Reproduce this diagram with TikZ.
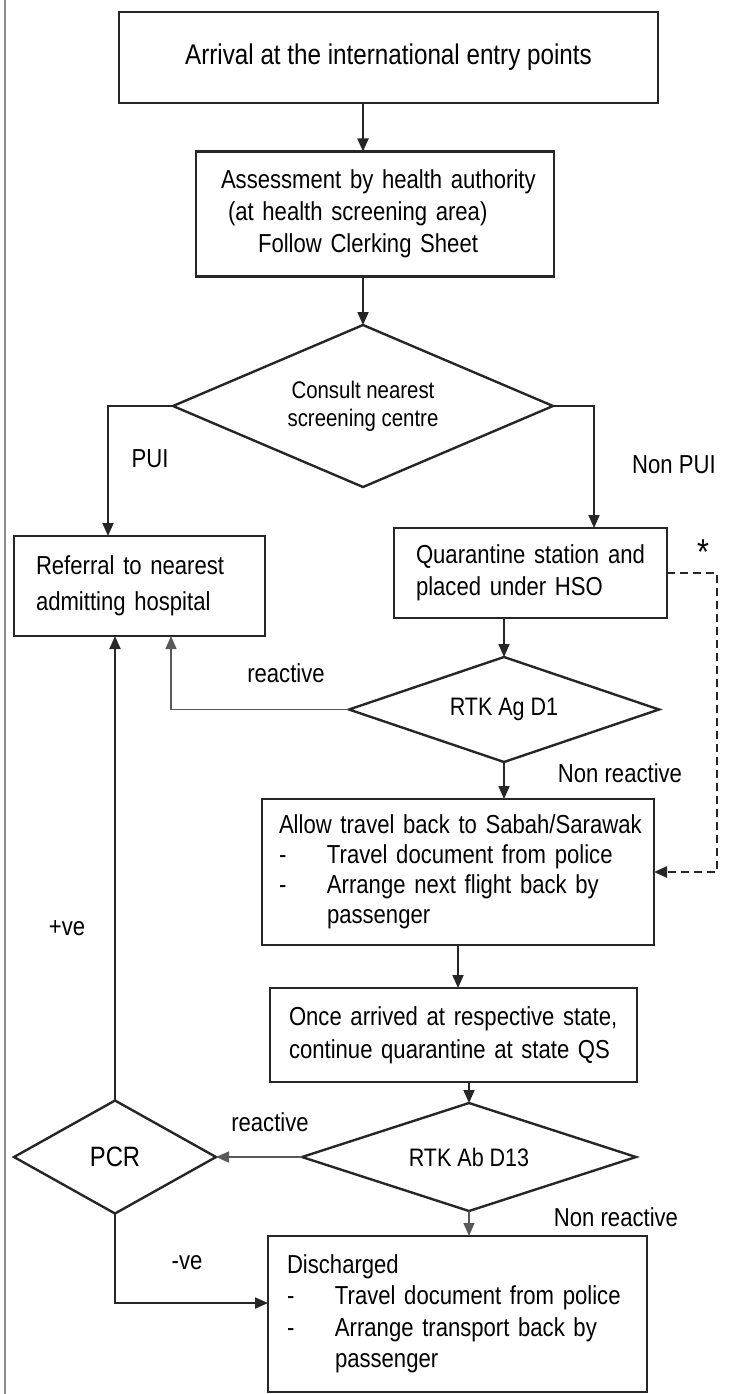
\documentclass[tikz,border=0pt]{standalone}
\usepackage{fontspec}
\setmainfont{Liberation Sans}[FakeStretch=0.85]
\usetikzlibrary{shapes.geometric,arrows.meta}

\begin{document}
\begin{tikzpicture}[x=1pt, y=-1pt, line join=miter,
    stepbox/.style={draw=black!85, line width=2.4pt, outer sep=0pt, inner ysep=0pt, align=left},
    decision/.style={diamond, draw=black!85, line width=2.4pt, outer sep=0pt, inner sep=0pt, align=center},
    flow/.style={draw=black!85, line width=1.8pt, -{Triangle[length=13pt,width=11pt]}},
    thinflow/.style={draw=black!65, line width=1.3pt, -{Triangle[length=13pt,width=11pt]}},
    lbl/.style={inner sep=0pt, font=\fontsize{26}{28}\selectfont}]
    \useasboundingbox (0,0) rectangle (731,1394);

    % Page edge on the left
    \draw[black!45, line width=1.5pt] (5,0) -- (5,1394);

    % Process boxes
    \node[stepbox, align=center, minimum width=539pt, minimum height=91pt,
          font=\fontsize{28.5}{32}\selectfont] (arrival) at (388.5,57.5)
          {Arrival at the international entry points};
    \node[stepbox, text width=318pt, inner xsep=20pt, minimum height=125pt,
          font=\fontsize{26}{32}\selectfont] (assess) at (375,214)
          {\hspace*{5pt}\mbox{Assessment by health authority}\\
           \hspace*{12pt}(at health screening area)\\
           \hspace*{42pt}Follow Clerking Sheet};
    \node[stepbox, text width=207pt, inner xsep=22pt, minimum height=100pt,
          font=\fontsize{26}{36}\selectfont] (referral) at (139.5,586)
          {Referral to nearest\\admitting hospital};
    \node[stepbox, text width=229pt, inner xsep=22pt, minimum height=90pt,
          font=\fontsize{26}{32}\selectfont] (quar) at (530.5,573)
          {Quarantine\hfill station\hfill and\\placed under HSO};
    \node[stepbox, text width=358pt, inner xsep=17pt, minimum height=146pt,
          font=\fontsize{26}{30}\selectfont] (allow) at (458,872)
          {\mbox{Allow travel back to Sabah/Sarawak}\\
           \makebox[48pt][l]{-}Travel document from police\\
           \makebox[48pt][l]{-}Arrange next flight back by\\
           \hspace*{48pt}passenger};
    \node[stepbox, text width=329pt, inner xsep=19pt, minimum height=94pt,
          font=\fontsize{26}{33}\selectfont] (once) at (453.5,1035)
          {\mbox{Once arrived at respective state,}\\\mbox{continue quarantine at state QS}};
    \node[stepbox, text width=341pt, inner xsep=19pt, minimum height=156pt,
          font=\fontsize{26}{31.5}\selectfont] (discharged) at (457.5,1314)
          {Discharged\\
           \makebox[48pt][l]{-}\mbox{Travel document from police}\\
           \makebox[48pt][l]{-}Arrange transport back by\\
           \hspace*{48pt}passenger};

    % Decisions
    \node[decision, aspect=2.4, minimum width=380pt, minimum height=162pt,
          font=\fontsize{24}{28}\selectfont] (consult) at (363,406)
          {Consult nearest\\screening centre};
    \node[decision, aspect=3, minimum width=310pt, minimum height=105pt,
          font=\fontsize{25.3}{28}\selectfont] (rtkag) at (504,709.5) {RTK Ag D1};
    \node[decision, aspect=3, minimum width=334pt, minimum height=108pt,
          font=\fontsize{25.3}{28}\selectfont] (rtkab) at (469,1157) {RTK Ab D13};
    \node[decision, aspect=1.8, minimum width=202pt, minimum height=113pt,
          font=\fontsize{28}{30}\selectfont] (pcr) at (115,1157) {PCR};

    % Connectors
    \draw[flow] (arrival.south -| consult.north) -- (assess.north -| consult.north);
    \draw[flow] (assess.south -| consult.north) -- (consult.north);
    \draw[flow] (consult.west) -| ([xshift=-31.5pt]referral.north);
    \draw[flow] (consult.east) -| ([xshift=63.5pt]quar.north);
    \draw[flow] (quar.south -| rtkag.north) -- (rtkag.north);
    \draw[thinflow] (rtkag.west) -| ([xshift=31.5pt]referral.south);
    \draw[flow] (rtkag.south) -- (allow.north -| rtkag.south);
    \draw[flow, line width=2.4pt, dash pattern=on 8pt off 5pt]
        (quar.east) -- ++(50,0) |- (allow.east);
    \draw[flow] (allow.south) -- (once.north -| allow.south);
    \draw[flow] (once.south -| rtkab.north) -- (rtkab.north);
    \draw[thinflow] (rtkab.west) -- (pcr.east);
    \draw[flow] (pcr.north) -- (referral.south -| pcr.north);
    \draw[flow] (pcr.south) |- ([yshift=11pt]discharged.west);
    \draw[thinflow] (rtkab.south) -- (discharged.north -| rtkab.south);

    % Branch labels
    \node[lbl] (lpui) at (150,459) {PUI};
    \node[lbl] (lnonpui) at (674,465) {Non PUI};
    \node[lbl, font=\fontsize{36}{36}\selectfont] (lstar) at (703,552) {*};
    \node[lbl] (lreact1) at (286,673) {reactive};
    \node[lbl] (lnonreact1) at (620,773) {Non reactive};
    \node[lbl] (lpos) at (67,928) {+ve};
    \node[lbl] (lreact2) at (270,1122) {reactive};
    \node[lbl] (lnonreact2) at (616,1217) {Non reactive};
    \node[lbl] (lneg) at (187,1263) {-ve};
\end{tikzpicture}
\end{document}
